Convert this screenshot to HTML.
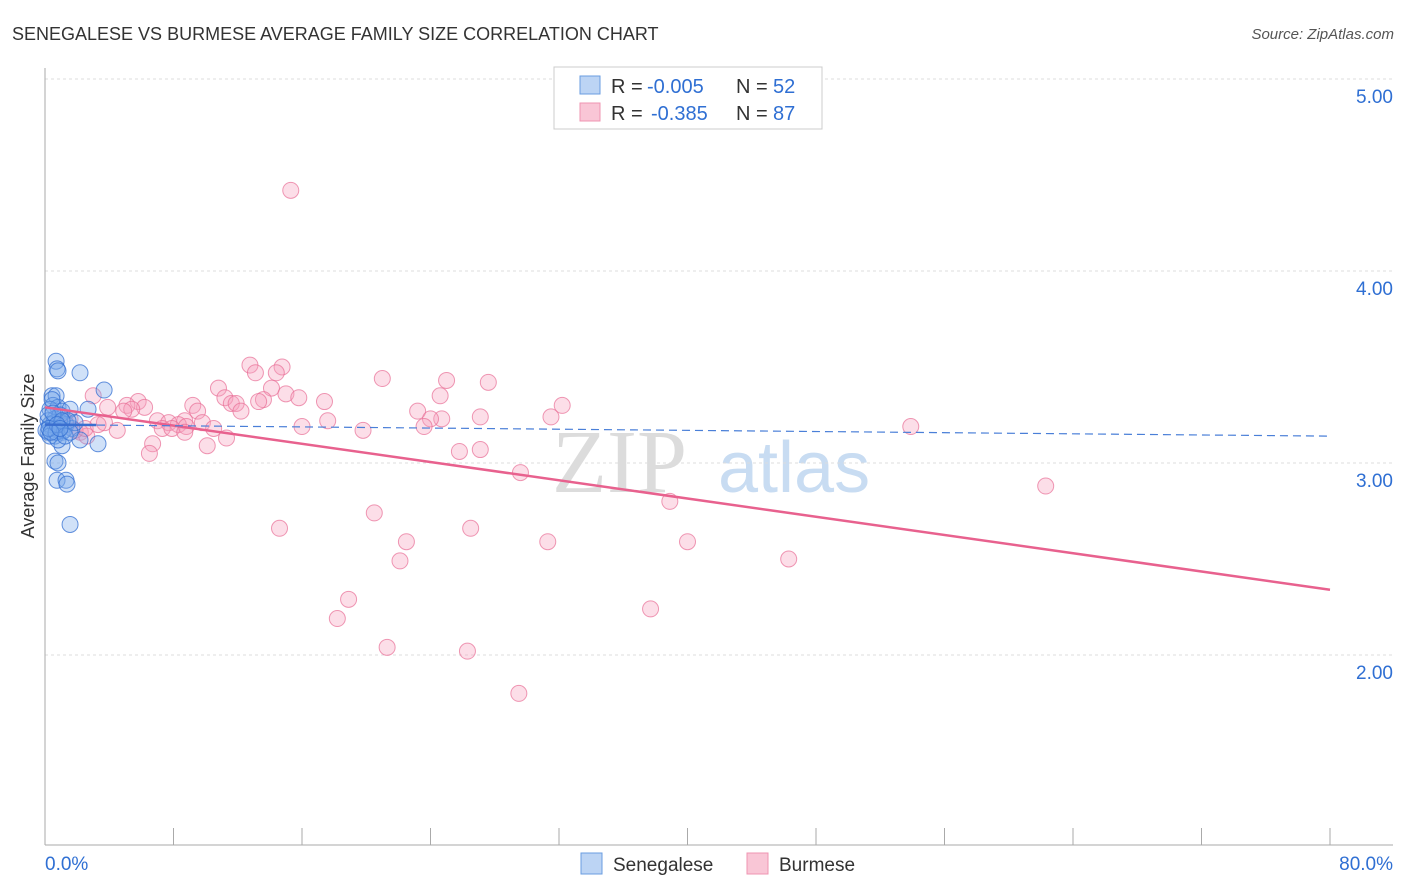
<!DOCTYPE html>
<html><head><meta charset="utf-8"><style>
body{margin:0;background:#fff;font-family:"Liberation Sans",sans-serif;}
</style></head><body>
<svg id="c" width="1406" height="892" style="display:block">
<text x="12" y="40" font-size="18" fill="#333">SENEGALESE VS BURMESE AVERAGE FAMILY SIZE CORRELATION CHART</text>
<text x="1394" y="39" font-size="15" fill="#555" font-style="italic" text-anchor="end">Source: ZipAtlas.com</text>
<text x="34" y="456" font-size="18" fill="#333" text-anchor="middle" transform="rotate(-90 34 456)">Average Family Size</text>
<g><text x="552" y="492" font-size="90" font-family="Liberation Serif,serif" fill="#dcdcdc">ZIP</text><text x="718" y="492" font-size="72" fill="#c8dcf2">atlas</text></g>
<g id="grid"></g><g id="pts"></g><g id="trend"></g>
<g>
<rect x="554" y="67" width="268" height="62" fill="#fff" stroke="#ccc"/>
<rect x="580" y="76" width="20" height="18" fill="#bcd4f4" stroke="#6a9de0"/>
<rect x="580" y="103" width="20" height="18" fill="#f9c6d6" stroke="#ef94b2"/>
<text y="93" font-size="20" fill="#333"><tspan x="611">R =</tspan><tspan x="647" fill="#2f6fd3">-0.005</tspan><tspan x="736">N =</tspan><tspan x="773" fill="#2f6fd3">52</tspan></text>
<text y="120" font-size="20" fill="#333"><tspan x="611">R =</tspan><tspan x="651" fill="#2f6fd3">-0.385</tspan><tspan x="736">N =</tspan><tspan x="773" fill="#2f6fd3">87</tspan></text>
</g>
<g>
<rect x="581" y="853" width="21" height="21" fill="#bcd4f4" stroke="#6a9de0"/>
<text x="613" y="871" font-size="19" fill="#333">Senegalese</text>
<rect x="747" y="853" width="21" height="21" fill="#f9c6d6" stroke="#ef94b2"/>
<text x="779" y="871" font-size="19" fill="#333">Burmese</text>
</g>
</svg>
<script>
const yTicks=[5,4,3,2];
const yTickLabels=["5.00","4.00","3.00","2.00"];
const xTickVals=[0,8,16,24,32,40,48,56,64,72,80];
const xEndLabels=["0.0%","80.0%"];
const senX=[0.69,0.75,0.81,2.18,3.68,0.44,0.69,0.5,0.81,0.31,1.06,1.56,2.68,0.62,0.19,0.93,1.31,0.44,0.81,0.19,1.06,0.62,1.68,2.18,3.3,1.06,0.62,0.81,0.75,1.31,1.37,1.56,0.31,0.56,0.93,0.06,0.31,1.18,1.87,0.44,0.69,0.19,0.81,1.43,0.5,1.06,0.25,0.75,1.25,1.56,0.37,0.93];
const senY=[3.53,3.49,3.48,3.47,3.38,3.35,3.35,3.3,3.29,3.28,3.27,3.28,3.28,3.23,3.22,3.21,3.2,3.18,3.17,3.16,3.16,3.14,3.18,3.12,3.1,3.09,3.01,3.0,2.91,2.91,2.89,2.68,3.2,3.21,3.25,3.17,3.14,3.17,3.21,3.33,3.16,3.25,3.12,3.22,3.26,3.22,3.18,3.2,3.14,3.16,3.16,3.18];
const burX=[15.3,12.76,14.76,13.1,14.4,21.0,27.6,25.0,10.8,14.1,24.6,3.0,5.8,11.2,13.6,15.0,15.8,13.3,11.6,17.4,32.2,9.2,11.9,6.2,5.1,3.9,5.4,4.9,12.2,9.5,23.2,31.5,27.1,24.7,24.0,17.6,8.7,7.0,7.7,8.3,9.8,3.7,10.5,16.0,23.6,8.8,7.3,7.9,19.8,53.9,4.5,8.7,2.2,2.6,11.3,6.7,10.1,6.5,25.8,27.1,29.6,62.3,38.9,20.5,14.6,26.5,22.5,31.3,40.0,22.1,46.3,18.9,37.7,18.2,21.3,26.3,29.5,1.56,0.93,1.87,1.25,2.5,3.3];
const burY=[4.42,3.51,3.5,3.47,3.47,3.44,3.42,3.43,3.39,3.39,3.35,3.35,3.32,3.34,3.33,3.36,3.34,3.32,3.31,3.32,3.3,3.3,3.31,3.29,3.3,3.29,3.28,3.27,3.27,3.27,3.27,3.24,3.24,3.23,3.23,3.22,3.22,3.22,3.21,3.2,3.21,3.21,3.18,3.19,3.19,3.19,3.18,3.18,3.17,3.19,3.17,3.16,3.16,3.14,3.13,3.1,3.09,3.05,3.06,3.07,2.95,2.88,2.8,2.74,2.66,2.66,2.59,2.59,2.59,2.49,2.5,2.29,2.24,2.19,2.04,2.02,1.8,3.23,3.2,3.17,3.22,3.18,3.2];
const senTrend=[3.20,3.14];
const burTrend=[3.29,2.34];
const sx=v=>45+v/80*1285, sy=v=>79+(5-v)*192;
const NS="http://www.w3.org/2000/svg";
function mk(p,t,a){const e=document.createElementNS(NS,t);for(const k in a)e.setAttribute(k,a[k]);p.appendChild(e);return e;}
const g=document.getElementById('grid');
yTicks.forEach((v,i)=>{
 const l=mk(g,'line',{x1:45,x2:1393,y1:sy(v),y2:sy(v),stroke:'#ddd','stroke-dasharray':'3,3'});
 
 
 const t=mk(g,'text',{x:1393,y:sy(v)+24,'font-size':19,fill:'#2f6fd3','text-anchor':'end'});t.textContent=yTickLabels[i];
 
 
});
const ax=mk(g,'line',{x1:45,x2:45,y1:68,y2:845,stroke:'#aaa'});


const bx=mk(g,'line',{x1:45,x2:1393,y1:845,y2:845,stroke:'#aaa'});


xTickVals.forEach(v=>{const tk=mk(g,'line',{x1:sx(v),x2:sx(v),y1:828,y2:845,stroke:'#aaa'});
 
 });
[[0,'start'],[80,'end']].forEach((o,i)=>{const t=mk(g,'text',{x:i?1393:45,y:870,'font-size':19,fill:'#2f6fd3','text-anchor':o[1]});t.textContent=xEndLabels[i];
 
 });
const P=document.getElementById('pts');
burX.forEach((x,i)=>{const c=mk(P,'circle',{cx:sx(x),cy:sy(burY[i]),r:8,fill:'rgba(246,160,190,0.35)',stroke:'rgba(232,110,150,0.7)','stroke-width':1});
 
 });
senX.forEach((x,i)=>{const c=mk(P,'circle',{cx:sx(x),cy:sy(senY[i]),r:8,fill:'rgba(120,170,235,0.35)',stroke:'rgba(50,110,210,0.75)','stroke-width':1});
 
 });
const T=document.getElementById('trend');
const bl=mk(T,'line',{x1:sx(0),x2:sx(80),y1:sy(burTrend[0]),y2:sy(burTrend[1]),stroke:'#e8618e','stroke-width':2.5});


const sl=mk(T,'line',{x1:sx(0),x2:sx(80),y1:sy(senTrend[0]),y2:sy(senTrend[1]),stroke:'#4a7fd8','stroke-width':1.2,'stroke-dasharray':'8,5'});


const ss=mk(T,'line',{x1:sx(0),x2:sx(3.2),y1:sy(senTrend[0]),y2:sy(senTrend[0]-0.0024),stroke:'#3a6fd0','stroke-width':2.5});


</script>
</body></html>
